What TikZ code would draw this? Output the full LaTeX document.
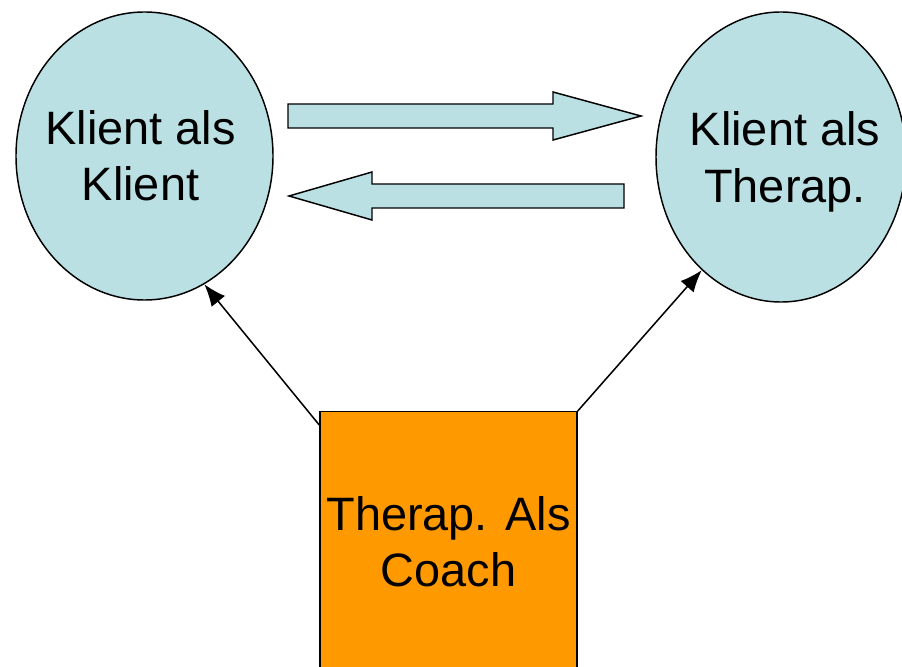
\documentclass[tikz,border=0pt]{standalone}
\usepackage{fontspec}
\setmainfont{Liberation Sans}
\usetikzlibrary{arrows.meta,shapes.geometric}
\definecolor{rolleblau}{RGB}{187,224,227}
\definecolor{coachorange}{RGB}{255,153,0}
\begin{document}
\begin{tikzpicture}[x=0.03cm,y=0.03cm,line width=1.25pt,
  rolle/.style={ellipse,draw,fill=rolleblau,inner sep=0pt},
  coach/.style={rectangle,draw,fill=coachorange,inner sep=0pt,
    minimum width=7.71cm,minimum height=7.8cm},
  rolletext/.style={align=center,inner sep=0pt,
    font=\fontsize{40}{48}\selectfont},
  blockpfeil/.style={draw,fill=rolleblau,line join=miter},
  zeiger/.style={-{Latex[length=0.66cm,width=0.52cm]},line width=1.3pt}]
 \useasboundingbox (0,0) rectangle (902,666);
 % die beiden Rollen des Klienten
 \node[rolle,minimum width=7.71cm,minimum height=8.64cm] (kk) at (144.5,510) {};
 \node[rolle,minimum width=7.5cm,minimum height=8.7cm] (kt) at (781,509) {};
 \node[rolletext] (kktext) at ([shift={(-4,0)}]kk.center) {Klient als\\Klient};
 \node[rolletext] (kttext) at ([shift={(4,-5)}]kt.center) {Klient als\\Therap.};
 % Therapeut als Coach
 \node[coach,anchor=north] (tc) at (448.5,255) {};
 \node[rolletext] (tctext) at (tc.center) {Therap. Als\\Coach};
 % Blockpfeile hin und her
 \draw[blockpfeil] (288,538) -- (553,538) -- (553,526) -- (641,550)
   -- (553,574) -- (553,562) -- (288,562) -- cycle;
 \draw[blockpfeil] (624,458) -- (372,458) -- (372,446) -- (289,470)
   -- (372,494) -- (372,482) -- (624,482) -- cycle;
 % Pfeile vom Coach zu den Rollen
 \draw[zeiger] ([shift={(0,-14)}]tc.north west) -- (kk.295);
 \draw[zeiger] (tc.north east) -- (kt.235);
\end{tikzpicture}
\end{document}
